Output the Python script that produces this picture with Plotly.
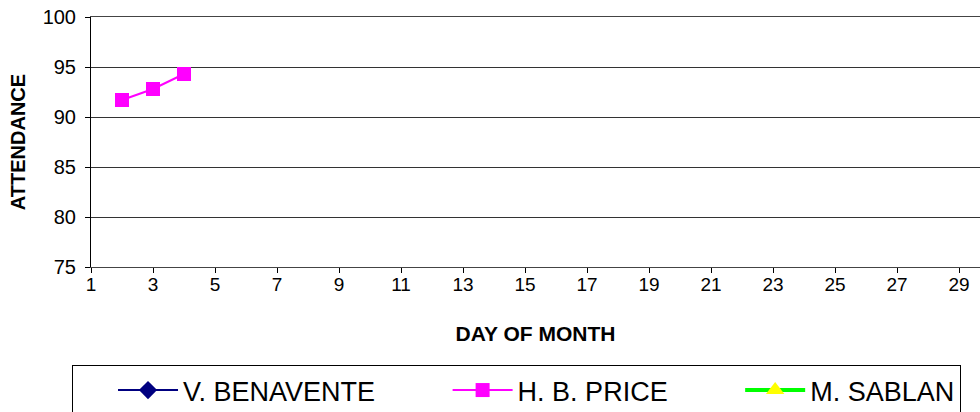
import plotly.graph_objects as go

# ---- data ----
x_tick_days = [1, 3, 5, 7, 9, 11, 13, 15, 17, 19, 21, 23, 25, 27, 29, 31]
y_tick_values = [75, 80, 85, 90, 95, 100]

benavente_days = [2, 3, 4]
benavente_values = [None, None, None]

price_days = [2, 3, 4]
price_values = [91.7, 92.8, 94.3]

sablan_days = [2, 3, 4]
sablan_values = [None, None, None]

FONT = "Liberation Sans, Arial, sans-serif"
NB = "\u00a0"

fig = go.Figure()
fig.add_trace(go.Scatter(
    x=benavente_days, y=benavente_values, name="V. BENAVENTE" + NB * 9,
    mode="lines+markers",
    line=dict(color="#000080", width=2),
    marker=dict(symbol="diamond", size=14, color="#000080"),
))
fig.add_trace(go.Scatter(
    x=price_days, y=price_values, name="H. B. PRICE" + NB * 9,
    mode="lines+markers",
    line=dict(color="#FF00FF", width=2),
    marker=dict(symbol="square", size=14, color="#FF00FF"),
))
fig.add_trace(go.Scatter(
    x=sablan_days, y=sablan_values, name="M. SABLAN",
    mode="lines+markers",
    line=dict(color="#00FF00", width=4),
    marker=dict(symbol="triangle-up", size=16, color="#FFFF00"),
))

# body margin is removed (see post_script), so figure pixels = window pixels
plot_left, plot_top, plot_bottom = 91, 17, 267
W, H = 980, 412
px_per_day = 31
x_max = 1 + (W - plot_left) / px_per_day

fig.update_layout(
    width=W, height=H,
    margin=dict(l=plot_left, r=0, t=plot_top, b=H - plot_bottom, autoexpand=False),
    paper_bgcolor="white", plot_bgcolor="white",
    font=dict(family=FONT, color="black", size=19),
    showlegend=True,
    legend=dict(
        orientation="h",
        x=(72 - plot_left) / (W - plot_left), xanchor="left",
        y=(plot_bottom - 365) / (plot_bottom - plot_top), yanchor="top",
        bordercolor="black", borderwidth=1,
        font=dict(family=FONT, size=27, color="black"),
        itemwidth=60,
        traceorder="normal",
        title=dict(text=NB * 4, side="left", font=dict(family=FONT, size=27)),
    ),
    xaxis=dict(
        range=[1, x_max],
        tickmode="array", tickvals=x_tick_days, ticktext=[str(d) for d in x_tick_days],
        ticks="outside", ticklen=5, tickcolor="black",
        ticklabelstandoff=-5,
        showline=True, linecolor="#444", linewidth=1, mirror=True,
        showgrid=False, zeroline=False,
        tickfont=dict(family=FONT, size=19),
        title=dict(text="<b>DAY OF MONTH</b>", font=dict(family=FONT, size=21), standoff=32),
    ),
    yaxis=dict(
        range=[75, 100],
        tickmode="array", tickvals=y_tick_values,
        ticks="outside", ticklen=5, tickcolor="black",
        ticklabelstandoff=5, ticklabeloverflow="allow",
        showline=True, linecolor="black", linewidth=1,
        showgrid=True, gridcolor="#333", gridwidth=1, zeroline=False,
        tickfont=dict(family=FONT, size=20),
        title=dict(text="<b>ATTENDANCE</b>", font=dict(family=FONT, size=20), standoff=11),
    ),
)

fig.write_html("out.html", config={"displayModeBar": False},
               post_script="document.body.style.margin='0';")
